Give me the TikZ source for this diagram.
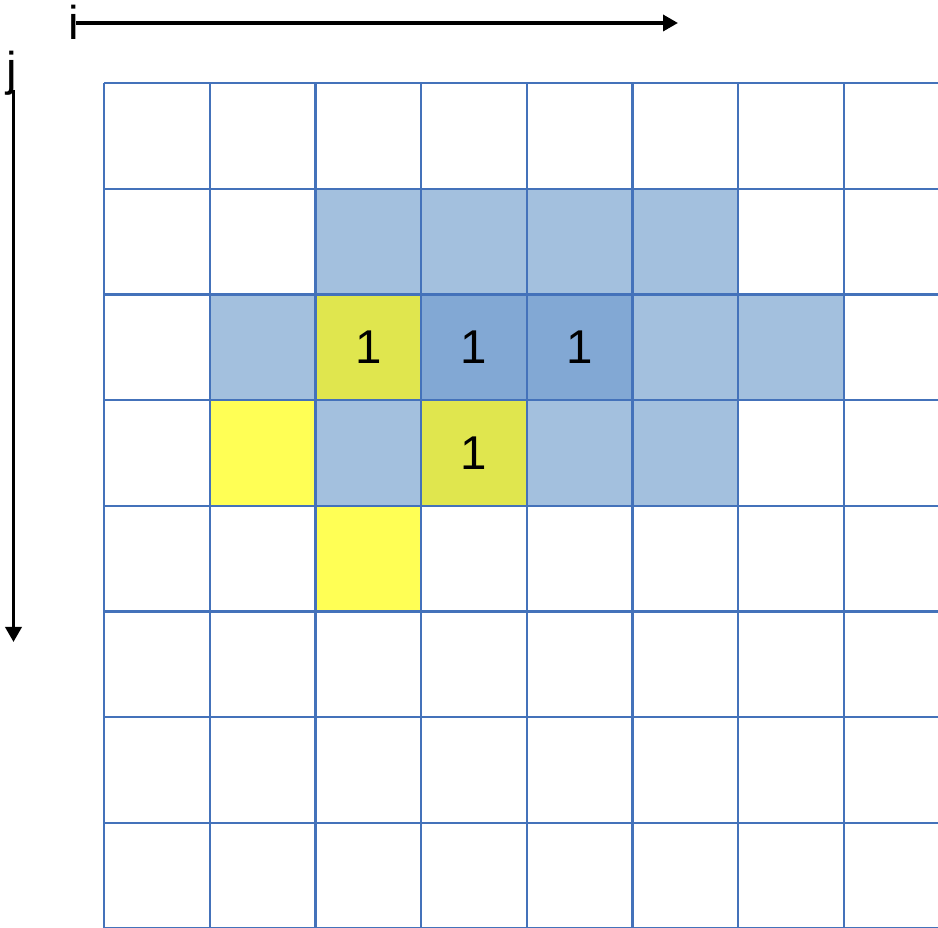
\documentclass[tikz,border=0pt]{standalone}
\usepackage{fontspec}
\setmainfont{Liberation Sans}
\usetikzlibrary{arrows.meta}
\definecolor{cellblue}{RGB}{163,192,222}
\definecolor{celldark}{RGB}{130,168,212}
\definecolor{cellyellow}{RGB}{255,255,85}
\definecolor{cellolive}{RGB}{224,230,78}
\definecolor{gridblue}{RGB}{68,114,186}
\begin{document}
\begin{tikzpicture}[x=0.02cm,y=-0.02cm,>={Triangle[length=0.3cm,width=0.32cm]},font=\fontsize{27}{32}\selectfont, line join=round]
\useasboundingbox (0,0) rectangle (938,928);
\foreach \c/\r/\col in {2/1/cellblue,3/1/cellblue,4/1/cellblue,5/1/cellblue,1/2/cellblue,2/2/cellolive,3/2/celldark,4/2/celldark,5/2/cellblue,6/2/cellblue,1/3/cellyellow,2/3/cellblue,3/3/cellolive,4/3/cellblue,5/3/cellblue,2/4/cellyellow}
  \fill[\col] ({104+\c*105.7},{83+\r*105.7}) rectangle +(105.7,105.7);
\foreach \k in {0,...,8}{
  \draw[gridblue,line width=1.3pt] ({104+\k*105.7},83)--({104+\k*105.7},928);
  \draw[gridblue,line width=1.3pt] (104,{83+\k*105.7})--(938,{83+\k*105.7});
}
\node[inner sep=0] (one-a) at ({104+2.5*105.7},{83+2.5*105.7}) {1};
\node[inner sep=0] (one-b) at ({104+3.5*105.7},{83+2.5*105.7}) {1};
\node[inner sep=0] (one-c) at ({104+4.5*105.7},{83+2.5*105.7}) {1};
\node[inner sep=0] (one-d) at ({104+3.5*105.7},{83+3.5*105.7}) {1};
\node[inner sep=0,anchor=base] (ilabel) at (74,40) {i};
\node[inner sep=0,anchor=base] (jlabel) at (12,86) {j};
\coordinate (istart) at (76,23);
\coordinate (iend) at (678,23);
\coordinate (jstart) at (13.5,90);
\coordinate (jend) at (13.5,642);
\draw[->,line width=2pt] (istart)--(iend);
\draw[->,line width=2pt] (jstart)--(jend);
\end{tikzpicture}
\end{document}
